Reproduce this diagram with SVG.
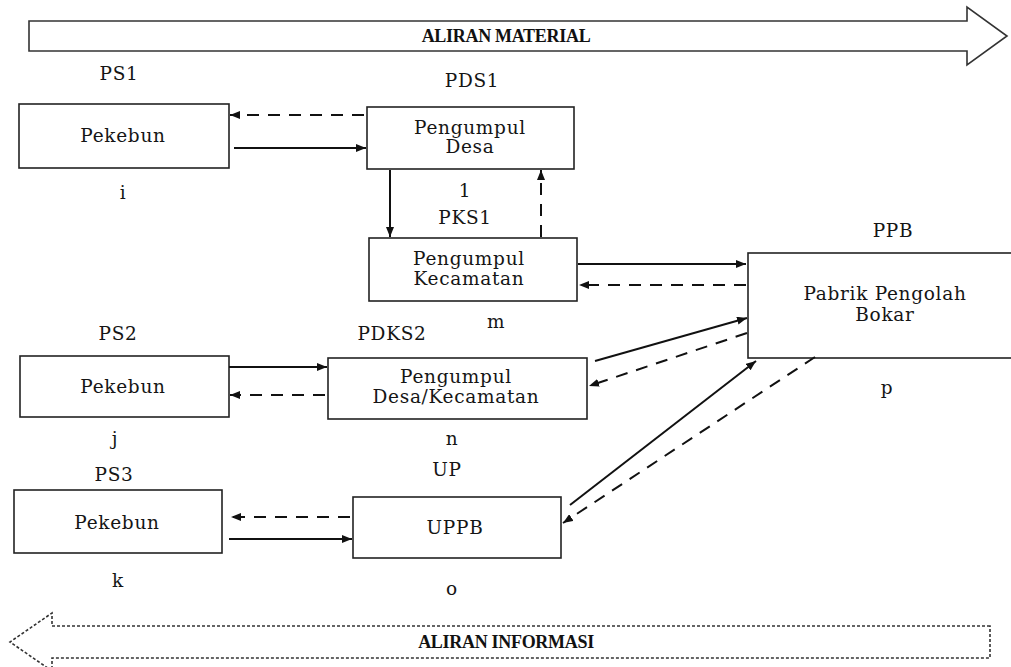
<svg xmlns="http://www.w3.org/2000/svg" width="1011" height="667" viewBox="0 0 1011 667">
  <defs>
    <style>
      .box { fill: #fff; stroke: #222; stroke-width: 1.6; }
      .t { font-family: "DejaVu Serif", "Liberation Serif", serif; font-size: 18.5px; letter-spacing: 0.7px; fill: #151515; text-anchor: middle; dominant-baseline: central; }
      .band { font-family: "Liberation Serif", serif; font-weight: bold; font-size: 18px; letter-spacing: -0.3px; fill: #111; text-anchor: middle; dominant-baseline: central; }
      .solid { fill: none; stroke: #111; stroke-width: 2; marker-end: url(#head); }
      .dash { fill: none; stroke: #111; stroke-width: 2; stroke-dasharray: 12 9; marker-end: url(#head); }
    </style>
    <marker id="head" viewBox="0 0 10 8" refX="10" refY="4" markerWidth="10" markerHeight="8" markerUnits="userSpaceOnUse" orient="auto">
      <path d="M0,0 L10,4 L0,8 Z" fill="#111"/>
    </marker>
  </defs>
  <rect width="1011" height="667" fill="#fff"/>

  <!-- flow bands -->
  <g id="material-flow">
    <path d="M29,21 H967 V7 L1007,36 L967,65 V51 H29 Z" fill="#fff" stroke="#333" stroke-width="1.6"/>
    <text class="band" x="506" y="36">ALIRAN MATERIAL</text>
  </g>
  <g id="information-flow">
    <path d="M990,626 H52 V613 L10,642 L52,671 V658 H990 Z" fill="#fff" stroke="#333" stroke-width="1.6" stroke-dasharray="3 2"/>
    <text class="band" x="506" y="642">ALIRAN INFORMASI</text>
  </g>

  <!-- nodes -->
  <g id="ps1">
    <text class="t" x="119" y="73">PS1</text>
    <rect class="box" x="19" y="104" width="210" height="64"/>
    <text class="t" x="123" y="135">Pekebun</text>
    <text class="t" x="123" y="192">i</text>
  </g>
  <g id="pds1">
    <text class="t" x="472" y="80">PDS1</text>
    <rect class="box" x="367" y="107" width="207" height="62"/>
    <text class="t" x="470" y="127">Pengumpul</text>
    <text class="t" x="470" y="146">Desa</text>
    <text class="t" x="465" y="190">1</text>
  </g>
  <g id="pks1">
    <text class="t" x="465" y="217">PKS1</text>
    <rect class="box" x="369" y="238" width="208" height="63"/>
    <text class="t" x="469" y="258">Pengumpul</text>
    <text class="t" x="469" y="278">Kecamatan</text>
    <text class="t" x="496" y="321">m</text>
  </g>
  <g id="ppb">
    <text class="t" x="893" y="230">PPB</text>
    <rect class="box" x="748" y="253" width="280" height="105"/>
    <text class="t" x="885" y="293">Pabrik Pengolah</text>
    <text class="t" x="885" y="314">Bokar</text>
    <text class="t" x="887" y="387">p</text>
  </g>
  <g id="ps2">
    <text class="t" x="118" y="333">PS2</text>
    <rect class="box" x="20" y="356" width="209" height="61"/>
    <text class="t" x="123" y="386">Pekebun</text>
    <text class="t" x="115" y="438">j</text>
  </g>
  <g id="pdks2">
    <text class="t" x="392" y="333">PDKS2</text>
    <rect class="box" x="328" y="358" width="259" height="61"/>
    <text class="t" x="456" y="376">Pengumpul</text>
    <text class="t" x="456" y="396">Desa/Kecamatan</text>
    <text class="t" x="452" y="438">n</text>
  </g>
  <g id="ps3">
    <text class="t" x="114" y="474">PS3</text>
    <rect class="box" x="14" y="490" width="208" height="63"/>
    <text class="t" x="117" y="522">Pekebun</text>
    <text class="t" x="118" y="580">k</text>
  </g>
  <g id="up">
    <text class="t" x="447" y="469">UP</text>
    <rect class="box" x="353" y="497" width="208" height="61"/>
    <text class="t" x="455" y="527">UPPB</text>
    <text class="t" x="452" y="588">o</text>
  </g>

  <!-- connectors -->
  <g id="connectors">
    <line class="dash" x1="364" y1="115" x2="230" y2="115"/>
    <line class="solid" x1="234" y1="148" x2="366" y2="148"/>
    <line class="solid" x1="390" y1="170" x2="390" y2="237"/>
    <line class="dash" x1="541" y1="237" x2="541" y2="170"/>
    <line class="solid" x1="578" y1="264" x2="746" y2="264"/>
    <line class="dash" x1="746" y1="285" x2="579" y2="285"/>
    <line class="solid" x1="229" y1="367" x2="327" y2="367"/>
    <line class="dash" x1="325" y1="395" x2="230" y2="395"/>
    <line class="solid" x1="595" y1="361" x2="747" y2="318"/>
    <line class="dash" x1="747" y1="333" x2="589" y2="386"/>
    <line class="dash" x1="350" y1="517" x2="231" y2="517"/>
    <line class="solid" x1="229" y1="539" x2="352" y2="539"/>
    <line class="solid" x1="570" y1="505" x2="756" y2="361"/>
    <line class="dash" x1="815" y1="357" x2="563" y2="523"/>
  </g>
</svg>
